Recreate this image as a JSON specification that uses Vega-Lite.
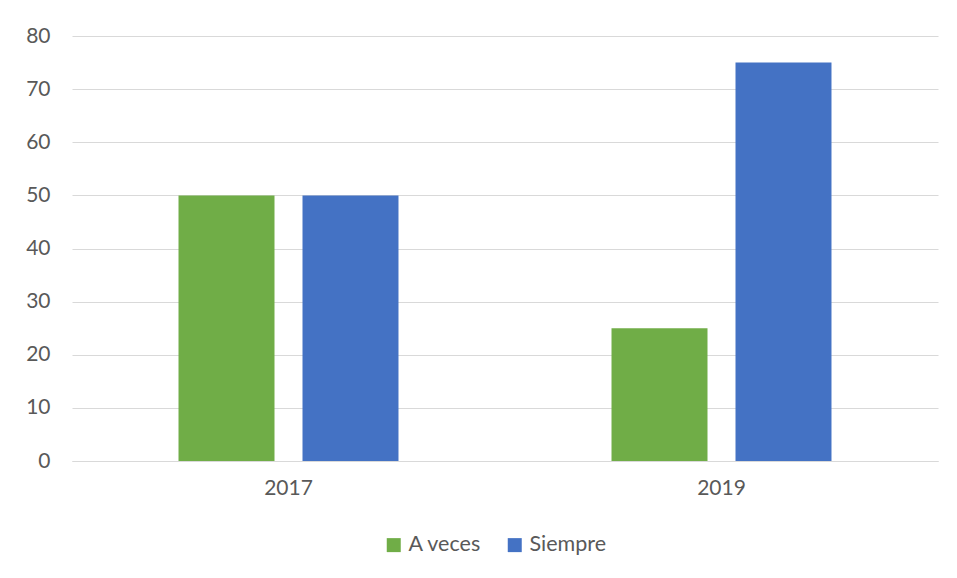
{
  "$schema": "https://vega.github.io/schema/vega-lite/v6.json",
  "autosize": {"type": "none"},
  "width": 866,
  "height": 425,
  "padding": {"left": 72, "top": 36, "right": 19, "bottom": 117},
  "background": "white",
  "config": {
    "view": {"stroke": null},
    "font": "Lato",
    "axis": {"labelFont": "Lato", "labelFontSize": 21, "labelColor": "#595959"},
    "legend": {"labelFont": "Lato", "labelFontSize": 21.5, "labelColor": "#595959"}
  },
  "data": {
    "values": [
      {"year": "2017", "serie": "A veces", "value": 50},
      {"year": "2017", "serie": "Siempre", "value": 50},
      {"year": "2019", "serie": "A veces", "value": 25},
      {"year": "2019", "serie": "Siempre", "value": 75}
    ]
  },
  "mark": {"type": "bar"},
  "encoding": {
    "x": {
      "field": "year",
      "type": "nominal",
      "title": null,
      "scale": {"paddingInner": 0, "paddingOuter": 0},
      "axis": {"labelAngle": 0, "domain": true, "domainColor": "#d9d9d9", "domainWidth": 1, "ticks": false, "labelPadding": 16, "grid": false}
    },
    "xOffset": {
      "field": "serie",
      "type": "nominal",
      "scale": {"paddingInner": 0.2258, "paddingOuter": 0.859}
    },
    "y": {
      "field": "value",
      "type": "quantitative",
      "title": null,
      "scale": {"domain": [0, 80]},
      "axis": {"values": [0, 10, 20, 30, 40, 50, 60, 70, 80], "domain": false, "ticks": false, "grid": true, "gridColor": "#d9d9d9", "gridWidth": 1, "labelPadding": 22}
    },
    "color": {
      "field": "serie",
      "type": "nominal",
      "scale": {"domain": ["A veces", "Siempre"], "range": ["#70ad47", "#4472c4"]},
      "legend": {
        "title": null,
        "orient": "none",
        "direction": "horizontal",
        "legendX": 311,
        "legendY": 498,
        "symbolType": "square",
        "symbolSize": 196,
        "symbolStrokeWidth": 0,
        "labelOffset": 4,
        "columnPadding": 22
      }
    }
  }
}
